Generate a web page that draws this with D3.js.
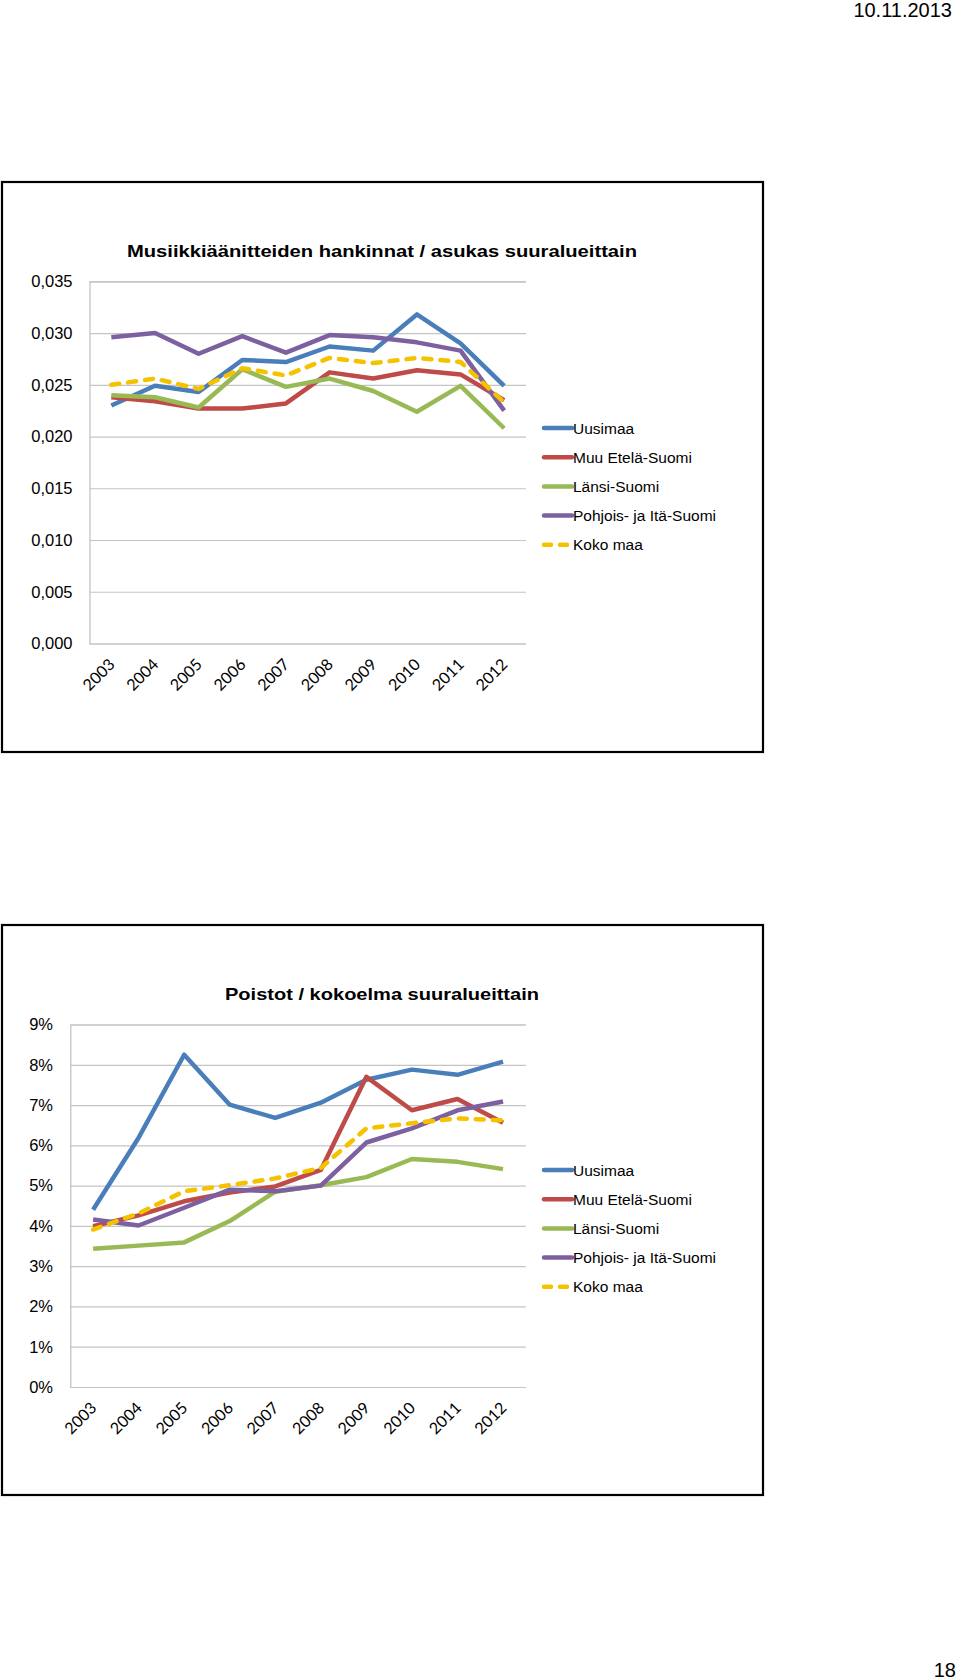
<!DOCTYPE html>
<html>
<head>
<meta charset="utf-8">
<script src="https://cdn.jsdelivr.net/npm/d3@7"></script>
<style>
  html, body { margin: 0; padding: 0; background: #fff; }
  svg { display: block; }
  text { font-family: "Liberation Sans", Arial, sans-serif; fill: #000; }
</style>
</head>
<body>
<svg id="page" width="960" height="1680"></svg>
<script>
// ---------- data ----------
const years = ["2003","2004","2005","2006","2007","2008","2009","2010","2011","2012"];
const seriesNames = ["Uusimaa","Muu Etelä-Suomi","Länsi-Suomi","Pohjois- ja Itä-Suomi","Koko maa"];
const seriesColors = ["#4a7ebb","#be4b48","#98b954","#7d60a0","#f5c200"];
const seriesDashed = [false,false,false,false,true];

// Chart 1: Musiikkiäänitteiden hankinnat / asukas
const c1Title = "Musiikkiäänitteiden hankinnat /  asukas suuralueittain";
const c1Uusimaa   = [0.0230,0.0249,0.0243,0.0274,0.0272,0.0287,0.0283,0.0318,0.0290,0.0249];
const c1MuuEtela  = [0.0238,0.0234,0.0227,0.0227,0.0232,0.0262,0.0256,0.0264,0.0260,0.0235];
const c1Lansi     = [0.0240,0.0238,0.0228,0.0265,0.0248,0.0256,0.0244,0.0224,0.0249,0.0208];
const c1Pohjois   = [0.0296,0.0300,0.0280,0.0297,0.0281,0.0298,0.0296,0.0291,0.0283,0.0225];
const c1Koko      = [0.0250,0.0256,0.0246,0.0266,0.0259,0.0276,0.0271,0.0276,0.0272,0.0233];
const c1Ticks = [0,0.005,0.010,0.015,0.020,0.025,0.030,0.035];
const c1TickLabels = ["0,000","0,005","0,010","0,015","0,020","0,025","0,030","0,035"];

// Chart 2: Poistot / kokoelma (%)
const c2Title = "Poistot /  kokoelma suuralueittain";
const c2Uusimaa   = [4.40,6.19,8.25,7.01,6.68,7.06,7.63,7.88,7.75,8.08];
const c2MuuEtela  = [3.99,4.26,4.61,4.83,4.98,5.39,7.70,6.87,7.15,6.56];
const c2Lansi     = [3.43,3.51,3.59,4.12,4.85,5.01,5.21,5.66,5.59,5.41];
const c2Pohjois   = [4.16,4.01,4.45,4.90,4.86,5.00,6.07,6.42,6.87,7.09];
const c2Koko      = [3.91,4.31,4.86,5.01,5.18,5.44,6.42,6.55,6.67,6.62];
const c2Ticks = [0,1,2,3,4,5,6,7,8,9];
const c2TickLabels = ["0%","1%","2%","3%","4%","5%","6%","7%","8%","9%"];

const headerDate = "10.11.2013";
const pageNumber = "18";

// ---------- drawing ----------
const svg = d3.select("#page");

svg.append("text").attr("x", 952).attr("y", 17).attr("text-anchor", "end")
  .style("font-size", "20px").text(headerDate);
svg.append("text").attr("x", 956).attr("y", 1677).attr("text-anchor", "end")
  .style("font-size", "20px").text(pageNumber);

function drawChart(cfg) {
  const g = svg.append("g");
  // frame
  g.append("rect").attr("x", cfg.frame[0]).attr("y", cfg.frame[1])
    .attr("width", cfg.frame[2] - cfg.frame[0]).attr("height", cfg.frame[3] - cfg.frame[1])
    .attr("fill", "none").attr("stroke", "#000").attr("stroke-width", 2.2);

  // title
  g.append("text").attr("x", cfg.titleX[0]).attr("y", cfg.titleY)
    .attr("textLength", cfg.titleX[1] - cfg.titleX[0]).attr("lengthAdjust", "spacingAndGlyphs")
    .style("font-size", "17px").style("font-weight", "bold").text(cfg.title);

  const x = d3.scalePoint().domain(years).range([cfg.plot[0], cfg.plot[1]]).padding(0.5);
  const y = d3.scaleLinear().domain([cfg.ticks[0], cfg.ticks[cfg.ticks.length - 1]])
    .range([cfg.plot[3], cfg.plot[2]]);

  // gridlines
  const yAxis = d3.axisLeft(y).tickValues(cfg.ticks)
    .tickSize(-(cfg.plot[1] - cfg.plot[0])).tickPadding(cfg.plot[0] - cfg.labelRight)
    .tickFormat((d, i) => cfg.tickLabels[i]);
  const ya = g.append("g").attr("transform", `translate(${cfg.plot[0]},0)`).call(yAxis);
  ya.select(".domain").attr("stroke", "#bfbfbf").attr("stroke-width", 1.2);
  ya.selectAll(".tick line").attr("stroke", "#c4c4c4").attr("stroke-width", 1.2);
  ya.selectAll(".tick text").style("font-size", "16.5px")
    .style("font-family", '"Liberation Sans", Arial, sans-serif').attr("fill", "#000");

  // x labels
  const xAxis = d3.axisBottom(x).tickSize(0).tickPadding(0);
  const xa = g.append("g").attr("transform", `translate(0,${cfg.plot[3]})`).call(xAxis);
  xa.select(".domain").remove();
  xa.selectAll(".tick text")
    .style("font-family", 'Lato, "Open Sans", sans-serif').style("font-size", "16px")
    .attr("fill", "#000").attr("text-anchor", "end").attr("dy", null).attr("y", 0)
    .attr("transform", "translate(4,22) rotate(-45)");

  // lines
  const line = d3.line().x((d, i) => x(years[i])).y(d => y(d));
  cfg.series.forEach((vals, k) => {
    g.append("path").datum(vals).attr("d", line)
      .attr("fill", "none").attr("stroke", seriesColors[k]).attr("stroke-width", 4.5)
      .attr("stroke-linejoin", "round")
      .attr("stroke-linecap", seriesDashed[k] ? "round" : "butt")
      .attr("stroke-dasharray", seriesDashed[k] ? "8,9" : null);
  });

  // legend
  seriesNames.forEach((name, k) => {
    const ly = cfg.legendY + k * cfg.legendStep;
    g.append("line").attr("x1", 544).attr("x2", 572).attr("y1", ly).attr("y2", ly)
      .attr("stroke", seriesColors[k]).attr("stroke-width", 4.5)
      .attr("stroke-linecap", "round")
      .attr("stroke-dasharray", seriesDashed[k] ? "7,9" : null);
    g.append("text").attr("x", 573).attr("y", ly).attr("dy", "0.36em")
      .style("font-size", "15.5px").text(name);
  });
}

drawChart({
  frame: [2, 182, 763, 752],
  title: c1Title, titleX: [127, 637], titleY: 256.5,
  plot: [89.5, 526, 281.3, 643.5],
  labelRight: 72.5,
  ticks: c1Ticks, tickLabels: c1TickLabels,
  series: [c1Uusimaa, c1MuuEtela, c1Lansi, c1Pohjois, c1Koko],
  legendY: 428, legendStep: 29.2
});

drawChart({
  frame: [2, 925, 763, 1495],
  title: c2Title, titleX: [225, 539], titleY: 999.5,
  plot: [70.3, 525.8, 1024.5, 1387],
  labelRight: 53,
  ticks: c2Ticks, tickLabels: c2TickLabels,
  series: [c2Uusimaa, c2MuuEtela, c2Lansi, c2Pohjois, c2Koko],
  legendY: 1170, legendStep: 29.2
});
</script>
</body>
</html>
